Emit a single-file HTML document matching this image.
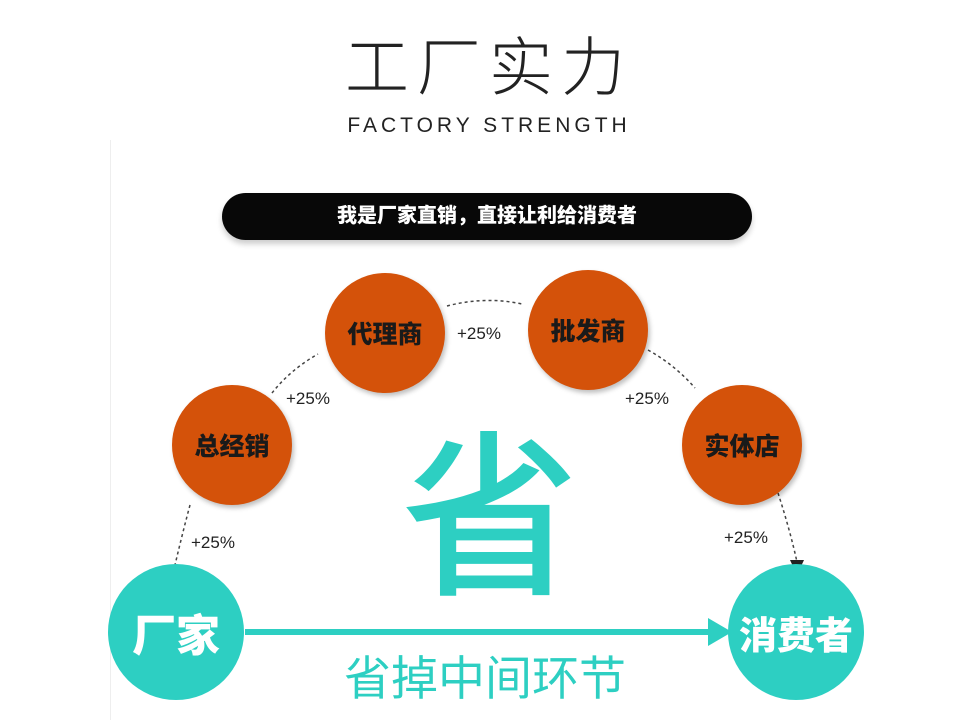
<!DOCTYPE html>
<html><head><meta charset="utf-8"><style>
body{margin:0;width:958px;height:720px;background:#fff;position:relative;overflow:hidden;font-family:"Liberation Sans","Noto Sans CJK SC",sans-serif}
.a{position:absolute}
.t{position:absolute;white-space:nowrap;text-align:center}
.c{position:absolute;border-radius:50%;background:#d4520a;color:#1a1a1a;font-weight:900;font-size:25px;display:flex;align-items:center;justify-content:center;box-shadow:2px 3px 5px rgba(0,0,0,.25)}
.g{position:absolute;border-radius:50%;background:#2dcfc2;color:#fff;font-weight:900;font-size:44px;display:flex;align-items:center;justify-content:center}
.p{position:absolute;font-size:17px;color:#222}
</style></head><body>
<div class="t" style="left:10px;width:958px;top:28px;font-size:64px;color:#222;letter-spacing:8px;line-height:80px;font-weight:300">工厂实力</div>
<div class="t" style="left:10px;width:958px;top:114px;font-size:21px;color:#222;letter-spacing:4px">FACTORY STRENGTH</div>
<div class="a" style="left:110px;top:140px;width:1px;height:580px;background:#eee"></div>
<div class="a" style="left:222px;top:193px;width:530px;height:47px;border-radius:24px;background:#080808;color:#fff;font-weight:900;font-size:20px;line-height:47px;text-align:center;box-shadow:0 4px 6px rgba(0,0,0,.2)">我是厂家直销，直接让利给消费者</div>
<svg class="a" style="left:0;top:0" width="958" height="720">
<g fill="none" stroke="#444" stroke-width="1.5" stroke-dasharray="3,3">
<path d="M272 393 Q290 370 318 354"/>
<path d="M447 306 Q485 296 522 304"/>
<path d="M648 350 Q675 365 695 388"/>
<path d="M190 505 Q182 535 175 565"/>
<path d="M778 493 Q790 530 797 562"/>
</g>
<polygon points="790,560 804,560 797,575" fill="#222"/>
<line x1="245" y1="632" x2="712" y2="632" stroke="#2dcfc2" stroke-width="6"/>
<polygon points="708,618 732,632 708,646" fill="#2dcfc2"/>
</svg>
<div class="c" style="left:325px;top:273px;width:120px;height:120px">代理商</div>
<div class="c" style="left:528px;top:270px;width:120px;height:120px">批发商</div>
<div class="c" style="left:172px;top:385px;width:120px;height:120px">总经销</div>
<div class="c" style="left:682px;top:385px;width:120px;height:120px">实体店</div>
<div class="p" style="left:457px;top:324px">+25%</div>
<div class="p" style="left:286px;top:389px">+25%</div>
<div class="p" style="left:625px;top:389px">+25%</div>
<div class="p" style="left:191px;top:533px">+25%</div>
<div class="p" style="left:724px;top:528px">+25%</div>
<div class="g" style="left:108px;top:564px;width:136px;height:136px">厂家</div>
<div class="g" style="left:728px;top:564px;width:136px;height:136px;font-size:38px">消费者</div>
<div class="t" style="left:400px;top:420px;width:180px;font-size:178px;line-height:200px;color:#2dcfc2;font-weight:500">省</div>
<div class="t" style="left:320px;top:650px;width:330px;font-size:47px;line-height:58px;color:#2dcfc2">省掉中间环节</div>
</body></html>
